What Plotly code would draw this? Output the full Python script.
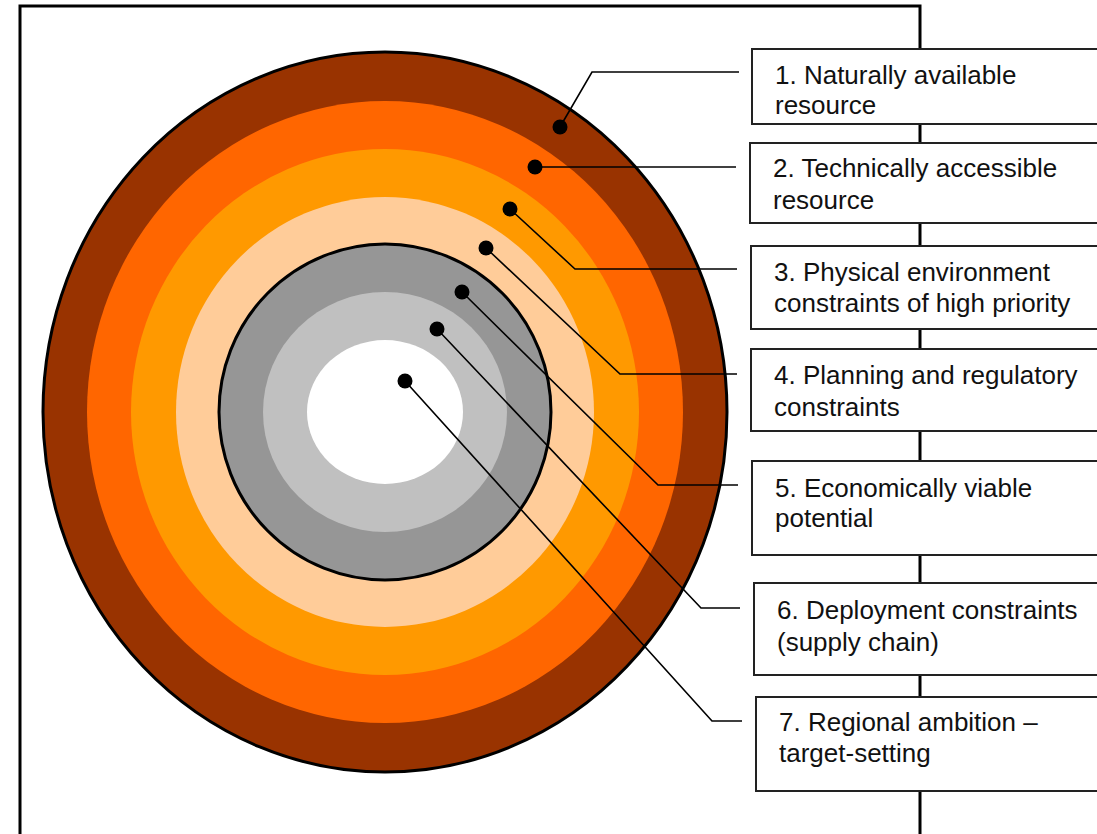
import plotly.graph_objects as go

# ---- data ----
label_line1 = [
    "1. Naturally available",
    "2. Technically accessible",
    "3. Physical environment",
    "4. Planning and regulatory",
    "5. Economically viable",
    "6. Deployment constraints",
    "7. Regional ambition \u2013",
]
label_line2 = [
    "resource",
    "resource",
    "constraints of high priority",
    "constraints",
    "potential",
    "(supply chain)",
    "target-setting",
]
ring_colors = ["#993300", "#FF6600", "#FF9900", "#FFCC99", "#969696", "#C0C0C0", "#FFFFFF"]
ring_rx = [342, 298, 254, 209, 166, 122, 78]
ring_ry = [360, 311, 263, 215, 168, 120, 72]
ring_outline = [True, False, False, False, True, False, False]
center_x, center_y = 385, 412

# leader lines: dot position, elbow position, end x
dot_x = [560, 535, 510, 486, 462, 437, 405]
dot_y = [127, 167, 209, 248, 292, 329, 381]
elbow_x = [592, 535, 575, 620, 658, 701, 712]
elbow_y = [72, 167, 269, 374, 485, 608, 721]
line_end_x = [739, 736, 737, 737, 738, 740, 742]

# label boxes
box_x0 = [752, 750, 751, 751, 752, 754, 756]
box_y0 = [49, 143, 246, 349, 461, 583, 697]
box_y1 = [124, 223, 329, 431, 555, 675, 791]
text_x = [773, 771, 772, 772, 773, 775, 777]
text_y1 = [75, 168, 272, 375, 488, 610, 722]
text_y2 = [105, 200, 303, 407, 518, 642, 753]

W, H = 1097, 834

fig = go.Figure()
shapes = []

# frame with vertical connector on the right
shapes.append(dict(type="rect", x0=20, y0=6, x1=920, y1=H + 40,
                   line=dict(color="black", width=3), fillcolor="rgba(0,0,0,0)", layer="below"))

# concentric ellipses
for c, rx, ry, ol in zip(ring_colors, ring_rx, ring_ry, ring_outline):
    shapes.append(dict(type="circle", x0=center_x - rx, x1=center_x + rx,
                       y0=center_y - ry, y1=center_y + ry, fillcolor=c,
                       line=dict(color="black", width=3 if ol else 0), layer="below"))

# boxes
for x0, y0, y1 in zip(box_x0, box_y0, box_y1):
    shapes.append(dict(type="rect", x0=x0, x1=W + 40, y0=y0, y1=y1, fillcolor="white",
                       line=dict(color="#222222", width=2), layer="below"))

# leader lines
for dx, dy, ex, ey, lx in zip(dot_x, dot_y, elbow_x, elbow_y, line_end_x):
    fig.add_trace(go.Scatter(x=[dx, ex, lx], y=[dy, ey, ey], mode="lines",
                             line=dict(color="black", width=1.6), hoverinfo="skip",
                             showlegend=False))

fig.add_trace(go.Scatter(x=dot_x, y=dot_y, mode="markers",
                         marker=dict(color="black", size=15, line=dict(width=0)),
                         hoverinfo="skip", showlegend=False))

annotations = []
font = dict(family="Liberation Sans, Arial, sans-serif", size=26, color="#111111")
for l1, l2, tx, y1, y2 in zip(label_line1, label_line2, text_x, text_y1, text_y2):
    for t, ty in ((l1, y1), (l2, y2)):
        annotations.append(dict(x=tx, y=ty, xref="x", yref="y", text=t, showarrow=False,
                                xanchor="left", yanchor="middle", align="left",
                                font=font))

fig.update_layout(
    width=W, height=H, margin=dict(l=0, r=0, t=0, b=0),
    paper_bgcolor="white", plot_bgcolor="white",
    xaxis=dict(range=[0, W], visible=False, fixedrange=True),
    yaxis=dict(range=[H, 0], visible=False, fixedrange=True),
    shapes=shapes, annotations=annotations, showlegend=False,
)

fig.write_html(
    "out.html",
    config={"displayModeBar": False},
    post_script="document.body.style.margin='0';document.body.style.overflow='hidden';",
)
